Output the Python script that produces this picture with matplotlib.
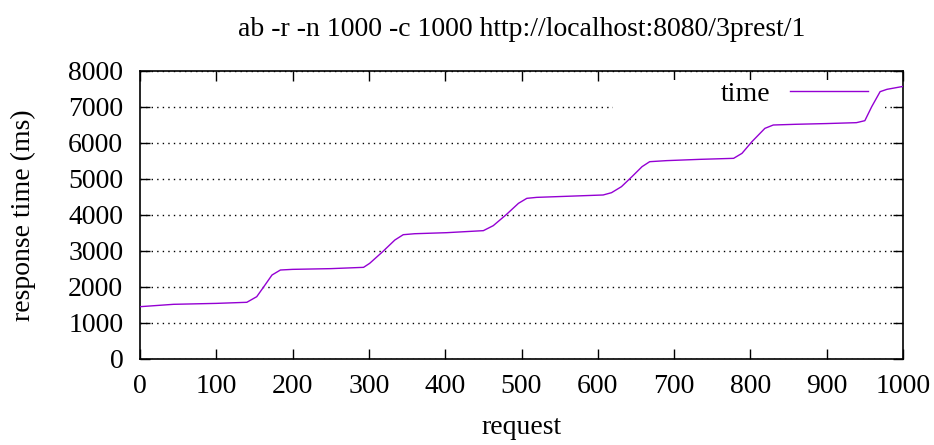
import matplotlib
matplotlib.use('Agg')
import matplotlib.pyplot as plt
from matplotlib.patches import Rectangle

plt.rcParams['font.family'] = ['Liberation Serif', 'DejaVu Serif']

# values
request = [0, 44, 100, 140, 153, 163, 173, 184, 200, 250, 293, 301, 318, 334, 345,
           360, 402, 450, 463, 480, 496, 507, 520, 560, 607, 618, 631, 645, 658, 668,
           690, 734, 778, 789, 802, 819, 830, 860, 900, 939, 950, 959, 970, 979, 998, 1000]
resp_time = [1453, 1519, 1545, 1575, 1731, 2030, 2333, 2472, 2490, 2510, 2546, 2657, 2980, 3305, 3453,
             3480, 3509, 3565, 3704, 4010, 4324, 4463, 4490, 4520, 4556, 4620, 4787, 5070, 5343, 5481,
             5510, 5546, 5574, 5713, 6037, 6407, 6500, 6520, 6540, 6565, 6620, 7009, 7426, 7491, 7564, 7570]
xticks = list(range(0, 1001, 100))
yticks = list(range(0, 8001, 1000))

fig = plt.figure(figsize=(9.34, 4.45), dpi=100)
ax = fig.add_axes([140 / 934, 1 - 359 / 445, 763 / 934, 288 / 445])

fs = 20
ax.plot(request, resp_time, color='#9400d3', linewidth=1, label='time', zorder=3)

ax.set_xlim(0, 1000)
ax.set_ylim(0, 8000)
ax.set_xticks(xticks)
ax.set_yticks(yticks)
ax.tick_params(direction='in', length=7, width=1, top=True, right=True,
               labelsize=fs)
ax.tick_params(axis='x', pad=11)
ax.tick_params(axis='y', pad=12)
ax.yaxis.grid(True, linestyle=(0, (1, 3)), color='black', linewidth=1)
ax.set_axisbelow(True)

# key box blanks the grid behind it
ax.add_patch(Rectangle((0.62, 0.84), 0.356, 0.13, transform=ax.transAxes,
                       facecolor='white', edgecolor='none', zorder=1.5))

ax.legend(loc='center right', bbox_to_anchor=(0.954, 0.92), frameon=False,
          markerfirst=False, handlelength=2.8, borderpad=0, borderaxespad=0,
          handletextpad=0.7, fontsize=fs)

ax.set_title('ab -r -n 1000 -c 1000 http://localhost:8080/3prest/1', fontsize=fs, pad=25)
ax.set_xlabel('request', fontsize=fs, labelpad=11)
ax.set_ylabel('response time (ms)', fontsize=fs, labelpad=23)

for s in ax.spines.values():
    s.set_linewidth(1.2)

plt.savefig('out.png', dpi=100)
